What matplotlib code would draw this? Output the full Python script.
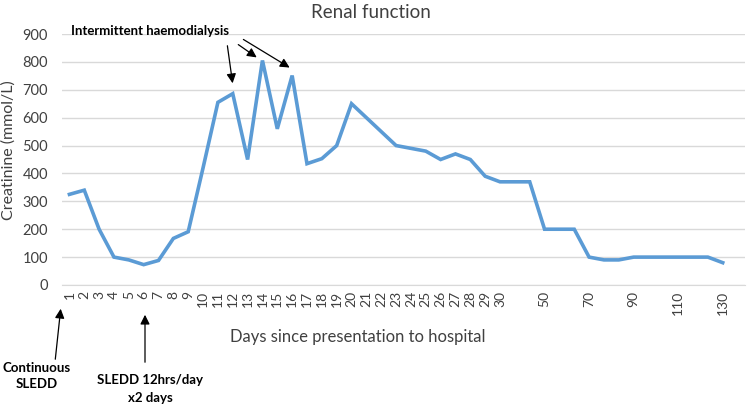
import numpy as np
import matplotlib
matplotlib.use('Agg')
import matplotlib.pyplot as plt

plt.rcParams['font.family'] = ['Lato', 'DejaVu Sans']

# category labels (Excel-style category axis, blanks between late days)
day_labels = [str(d) for d in range(1, 31)] + ['', '', '50', '', '', '70', '', '', '90', '', '', '110', '', '', '130', '']
creatinine = [325, 340, 200, 100, 90, 73, 88, 167, 191, 420,
              655, 686, 450, 805, 560, 751, 435, 453, 500, 650,
              600, 550, 500, 490, 480, 450, 470, 450, 390, 370,
              370, 370, 200, 200, 200, 100, 90, 90, 100, 100,
              100, 100, 100, 100, 80, np.nan]
y_ticks = list(range(0, 1000, 100))

fig = plt.figure(figsize=(7.49, 4.05), dpi=100)
ax = fig.add_axes([62/749, 1 - 285/405, (745 - 62)/749, (285 - 34)/405])

x = np.arange(len(day_labels))
ax.plot(x, creatinine, color='#5B9BD5', linewidth=2.6, solid_joinstyle='miter')

ax.set_xlim(-0.5, len(day_labels) - 0.5)
ax.set_ylim(0, 900)
ax.set_yticks(y_ticks)
ax.set_xticks(x)
ax.set_xticklabels(day_labels, rotation=90, fontsize=10, color='#404040')
ax.tick_params(axis='y', labelsize=10.5, labelcolor='#404040', length=0, pad=10)
ax.tick_params(axis='x', length=0, pad=4)
ax.grid(axis='y', color='#D9D9D9', linewidth=1)
ax.set_axisbelow(True)
for s in ['top', 'right', 'left']:
    ax.spines[s].set_visible(False)
ax.spines['bottom'].set_color('#D9D9D9')

fig.text(371/749, 1 - 12/405, 'Renal function', ha='center', va='center', fontsize=13.5, color='#404040')
fig.text(358/749, 1 - 337/405, 'Days since presentation to hospital', ha='center', va='center', fontsize=12, color='#404040')
fig.text(9/749, 1 - 150/405, 'Creatinine (mmol/L)', ha='center', va='center', rotation=90, fontsize=11.5, color='#404040')

# annotations (figure pixel coords)
def px(xp, yp):
    return (xp/749, 1 - yp/405)

fig.text(*px(150, 31), 'Intermittent haemodialysis', ha='center', va='center', fontsize=9.5, fontweight='bold')
ap = dict(arrowstyle='-|>', color='black', lw=0.9, mutation_scale=14)
for tail, tip in [((227, 43), (233, 86)), ((236, 43), (259, 59)), ((241, 38), (292, 69))]:
    ax.annotate('', xy=px(*tip), xycoords='figure fraction', xytext=px(*tail), textcoords='figure fraction', arrowprops=ap)

fig.text(*px(37, 376), 'Continuous\nSLEDD', ha='center', va='center', fontsize=9.5, fontweight='bold', linespacing=1.4)
fig.text(*px(150, 389), 'SLEDD 12hrs/day\nx2 days', ha='center', va='center', fontsize=9.5, fontweight='bold', linespacing=1.7)
ax.annotate('', xy=px(61, 306), xycoords='figure fraction', xytext=px(55, 362), textcoords='figure fraction', arrowprops=ap, annotation_clip=False)
ax.annotate('', xy=px(145, 312), xycoords='figure fraction', xytext=px(145, 365), textcoords='figure fraction', arrowprops=ap, annotation_clip=False)

fig.savefig('out.png', dpi=100)
